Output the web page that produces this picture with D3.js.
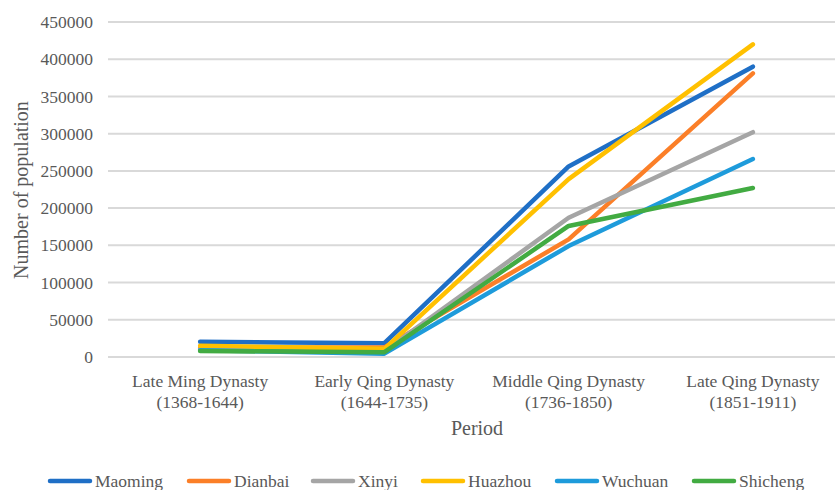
<!DOCTYPE html>
<html>
<head>
<meta charset="utf-8">
<script src="https://cdn.jsdelivr.net/npm/d3@7"></script>
<style>
  html, body { margin: 0; padding: 0; background: #fff; }
  svg { display: block; }
  text { font-family: "Liberation Serif", "Times New Roman", serif; fill: #595959; }
</style>
</head>
<body>
<svg id="chart" width="835" height="490"></svg>
<script>
// Population by period for six counties
const periods = [
  ["Late Ming Dynasty", "(1368-1644)"],
  ["Early Qing Dynasty", "(1644-1735)"],
  ["Middle Qing Dynasty", "(1736-1850)"],
  ["Late Qing Dynasty", "(1851-1911)"]
];
const seriesNames = ["Maoming", "Dianbai", "Xinyi", "Huazhou", "Wuchuan", "Shicheng"];
const maoming  = [20500, 18500, 256000, 390000];
const dianbai  = [12000, 13000, 158000, 381000];
const xinyi    = [10000,  8000, 187000, 302000];
const huazhou  = [15000, 11000, 239000, 420000];
const wuchuan  = [ 9000,  4500, 149000, 266000];
const shicheng = [ 8000,  6500, 176000, 227000];
const yTicks = [0, 50000, 100000, 150000, 200000, 250000, 300000, 350000, 400000, 450000];
const colors = ["#1f6fc6", "#fb7f28", "#a5a5a5", "#ffc000", "#1e9bdb", "#42ab42"];

const seriesValues = [maoming, dianbai, xinyi, huazhou, wuchuan, shicheng];

const svg = d3.select("#chart");
const plot = { left: 108, right: 845, top: 22, bottom: 357 };

const x = d3.scaleBand()
  .domain(periods.map((d, i) => i))
  .range([plot.left, plot.right]);

const y = d3.scaleLinear()
  .domain([0, 450000])
  .range([plot.bottom, plot.top]);

// Horizontal gridlines
svg.append("g")
  .selectAll("line")
  .data(yTicks)
  .join("line")
  .attr("x1", plot.left)
  .attr("x2", 835)
  .attr("y1", d => y(d))
  .attr("y2", d => y(d))
  .attr("stroke", "#d9d9d9")
  .attr("stroke-width", 2);

// Y axis labels
const yAxis = d3.axisLeft(y).tickValues(yTicks).tickFormat(d3.format("d")).tickSize(0).tickPadding(0);
const gy = svg.append("g").attr("transform", `translate(${plot.left - 15},0)`).call(yAxis);
gy.select(".domain").remove();
gy.selectAll("text")
  .attr("font-size", 17.5)
  .attr("font-family", "Liberation Serif")
  .attr("fill", "#595959");

// X axis category labels (two lines each)
const gx = svg.append("g");
periods.forEach((p, i) => {
  const t = gx.append("text")
    .attr("x", x(i) + x.bandwidth() / 2)
    .attr("y", 387)
    .attr("text-anchor", "middle")
    .attr("font-size", 17.5);
  t.append("tspan").attr("x", x(i) + x.bandwidth() / 2).attr("dy", 0).text(p[0]);
  t.append("tspan").attr("x", x(i) + x.bandwidth() / 2).attr("dy", 21).text(p[1]);
});

// Axis titles
svg.append("text")
  .attr("x", 477)
  .attr("y", 435)
  .attr("text-anchor", "middle")
  .attr("font-size", 20)
  .text("Period");

svg.append("text")
  .attr("transform", "translate(28,190) rotate(-90)")
  .attr("text-anchor", "middle")
  .attr("font-size", 20)
  .text("Number of population");

// Lines
const line = d3.line()
  .x((d, i) => x(i) + x.bandwidth() / 2)
  .y(d => y(d));

svg.append("g")
  .selectAll("path")
  .data(seriesValues)
  .join("path")
  .attr("d", d => line(d))
  .attr("fill", "none")
  .attr("stroke", (d, i) => colors[i])
  .attr("stroke-width", 4.5)
  .attr("stroke-linecap", "round")
  .attr("stroke-linejoin", "round");

// Legend
const legendX = [48, 187, 311, 421, 555, 692];
const lg = svg.append("g");
seriesNames.forEach((name, i) => {
  const g = lg.append("g").attr("transform", `translate(${legendX[i]},481)`);
  g.append("line")
    .attr("x1", 2).attr("x2", 42)
    .attr("y1", 0).attr("y2", 0)
    .attr("stroke", colors[i])
    .attr("stroke-width", 4.5)
    .attr("stroke-linecap", "round");
  g.append("text")
    .attr("x", 47)
    .attr("y", 6)
    .attr("font-size", 17.5)
    .text(name);
});
</script>
</body>
</html>
